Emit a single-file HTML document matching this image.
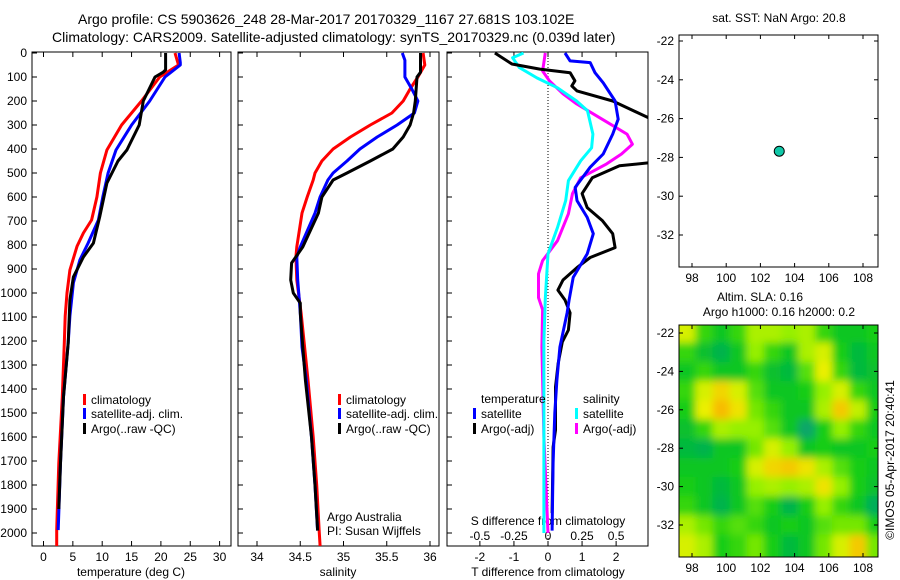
<!DOCTYPE html>
<html><head><meta charset="utf-8"><style>
html,body{margin:0;padding:0;background:#fff;}
svg{display:block;font-family:"Liberation Sans",Arial,sans-serif;}
text{fill:#000;}
</style></head><body>
<svg id="fig" xmlns="http://www.w3.org/2000/svg" width="900" height="580" viewBox="0 0 900 580">
<defs>
<filter id="blur" x="0" y="0" width="1" height="1"><feGaussianBlur stdDeviation="4"/></filter>
<clipPath id="cp1"><rect x="32" y="52" width="199" height="494"/></clipPath>
<clipPath id="cp2"><rect x="238" y="52" width="201" height="494"/></clipPath>
<clipPath id="cp3"><rect x="447" y="52" width="201" height="494"/></clipPath>
<clipPath id="cpm"><rect x="679" y="325" width="199" height="232"/></clipPath>
</defs>
<text x="78" y="24" font-size="14">Argo profile: CS 5903626_248 28-Mar-2017 20170329_1167 27.681S 103.102E</text>
<text x="52" y="42" font-size="14">Climatology: CARS2009. Satellite-adjusted climatology: synTS_20170329.nc (0.039d later)</text>
<g id="g"></g>
</svg>
<script>
// ---- profile data (depth in m) ----
const tClimDepth=[0,50,100,200,300,404,500,600,696,750,806,904,1000,1096,1208,1433,1708,1988,2054];
const tClimVal=[22.4,23.0,19.8,16.7,13.3,10.8,9.7,9.1,8.2,6.8,5.7,4.5,4.0,3.7,3.55,3.2,2.6,2.25,2.25];
const tSatDepth=[0,40,50,100,200,300,404,500,600,696,792,862,958,1096,1208,1433,1708,1988];
const tSatVal=[23.1,23.3,23.3,20.7,18.1,15.0,12.35,11.0,10.1,9.35,7.6,6.2,5.1,4.5,4.2,3.4,2.9,2.5];
const tArgoDepth=[0,70,80,100,200,300,404,450,542,679,792,850,933,1029,1208,1433,1708,1900];
const tArgoVal=[20.8,20.8,20.4,19.0,17.0,16.3,14.2,12.7,10.8,9.6,8.5,6.8,5.1,4.5,4.2,3.4,2.9,2.6];

const sClimDepth=[0,50,100,150,200,250,300,350,400,450,500,529,600,667,808,850,946,1083,1225,1363,1600,1800,2000,2054];
const sClimVal=[35.92,35.94,35.86,35.77,35.69,35.56,35.31,35.08,34.88,34.75,34.67,34.65,34.58,34.52,34.46,34.45,34.46,34.51,34.55,34.59,34.65,34.69,34.72,34.73];
const sSatDepth=[0,30,100,150,200,250,300,350,400,450,500,529,600,667,808,850,946,1083,1225,1363,1600,1800,1990];
const sSatVal=[35.68,35.71,35.71,35.79,35.86,35.82,35.62,35.39,35.19,35.04,34.88,34.82,34.73,34.67,34.5,34.46,34.47,34.5,34.52,34.57,34.63,34.67,34.7];
const sArgoDepth=[0,80,100,200,250,300,350,400,450,500,529,600,667,808,875,946,1000,1042,1083,1225,1363,1600,1800,1990];
const sArgoVal=[35.89,35.89,35.85,35.83,35.81,35.77,35.69,35.57,35.31,35.04,34.88,34.75,34.71,34.53,34.4,34.39,34.42,34.5,34.5,34.53,34.56,34.63,34.67,34.7];

// ---- differences from climatology ----
const dTSatDepth=[0,33,40,82,124,200,276,338,421,476,560,615,685,753,837,935,1029,1083,1225,1363,1500,1708,1990];
const dTSatVal=[0.5,0.65,1.24,1.38,1.62,1.97,2.06,1.9,1.62,1.24,0.8,0.85,1.15,1.33,1.15,0.74,0.62,0.56,0.35,0.26,0.2,0.15,0.12];
const dTArgoDepth=[0,46,67,82,116,137,158,200,270,330,420,457,470,520,586,644,699,753,811,852,894,946,988,1029,1083,1154,1204,1292,1392,1571,1642,1917];
const dTArgoVal=[-1.56,-1.06,-0.24,0.65,0.79,0.7,0.85,1.9,2.95,3.6,3.6,3.0,2.1,1.3,1.0,1.15,1.6,1.9,1.97,1.24,0.85,0.44,0.29,0.5,0.65,0.6,0.42,0.3,0.22,0.22,0.15,0.12];
const dSSatDepth=[0,20,61,104,145,200,241,338,395,449,532,615,727,837,1023,1200,2000];
const dSSatVal=[-0.18,-0.26,-0.21,-0.08,0.07,0.21,0.29,0.33,0.32,0.24,0.15,0.13,0.07,0.0,-0.02,-0.03,-0.03];
const dSArgoDepth=[0,75,116,170,212,270,338,380,421,462,520,586,670,782,865,920,1019,1070,1225,1600,2000];
const dSArgoVal=[-0.02,-0.04,0.01,0.11,0.21,0.38,0.58,0.62,0.54,0.43,0.24,0.18,0.15,0.07,-0.04,-0.07,-0.07,-0.04,-0.045,-0.03,0.0];

// ---- map data ----
const floatLon=103.102, floatLat=-27.681;
const slaLons=[97.7,98.7,99.7,100.7,101.7,102.7,103.7,104.7,105.7,106.7,107.7,108.7];
const slaLats=[-22,-23,-24,-25,-26,-27,-28,-29,-30,-31,-32,-33];
const slaGrid=[
[0.7,0.4,0.3,0.4,0.6,0.6,0.55,0.6,0.4,0.3,0.3,0.35],
[0.4,0.25,0.15,0.3,0.55,0.4,0.3,0.6,0.7,0.35,0.2,0.3],
[0.3,0.4,0.3,0.3,0.4,0.25,0.2,0.45,0.75,0.4,0.2,0.25],
[0.4,0.7,0.85,0.7,0.45,0.3,0.3,0.35,0.55,0.7,0.4,0.3],
[0.35,0.75,0.95,0.8,0.5,0.4,0.3,0.3,0.6,0.9,0.65,0.35],
[0.25,0.4,0.6,0.55,0.55,0.45,0.3,0.05,0.35,0.55,0.4,0.3],
[0.2,0.15,0.3,0.3,0.5,0.7,0.55,0.3,0.35,0.3,0.3,0.35],
[0.3,0.3,0.3,0.35,0.7,0.85,0.9,0.8,0.6,0.45,0.35,0.3],
[0.35,0.3,0.2,0.3,0.55,0.6,0.55,0.6,0.8,0.55,0.35,0.25],
[0.4,0.3,0.15,0.3,0.45,0.35,0.15,0.35,0.55,0.4,0.3,0.1],
[0.6,0.5,0.4,0.45,0.4,0.3,0.35,0.3,0.45,0.5,0.5,0.35],
[0.7,0.6,0.35,0.4,0.5,0.35,0.2,0.3,0.5,0.7,0.9,0.5]];

const NS="http://www.w3.org/2000/svg";
const G=document.getElementById('g');
function mk(tag,at,parent){const e=document.createElementNS(NS,tag);for(const k in at)e.setAttribute(k,at[k]);(parent||G).appendChild(e);return e;}
function txt(x,y,s,size,anchor,parent){const t=mk('text',{x:x,y:y,'font-size':size||12,'text-anchor':anchor||'start'},parent);t.textContent=s;return t;}

const Y0=53, YK=0.24;
const yD=d=>Y0+d*YK;
const xT=v=>43.5+v*5.87;
const xS=v=>257+(v-34)*86.5;
const xDT=v=>548+v*34.06;
const xDS=v=>548+v*136.2;

function line(ds,vs,fx,color,clip,name,w){
  let p='';for(let i=0;i<ds.length;i++)p+=(i?'L':'M')+fx(vs[i]).toFixed(1)+' '+yD(ds[i]).toFixed(1);
  const e=mk('path',{d:p,fill:'none',stroke:color,'stroke-width':w||3,'clip-path':'url(#'+clip+')','stroke-linejoin':'round'});
  
  
}

function frame(x0,x1,name,leftLabels){
  const r=mk('rect',{x:x0,y:52,width:x1-x0,height:494,fill:'none',stroke:'#000','stroke-width':1});
  
  
  for(let d=0;d<=2000;d+=100){
    const y=yD(d);
    mk('line',{x1:x0,x2:x0+5,y1:y,y2:y,stroke:'#000'});
    if(leftLabels){const t=txt(x0-5,y+4,String(d),12,'end');}
  }
}
frame(32,231,'temperature-panel',true);
frame(238,439,'salinity-panel',false);
frame(447,648,'difference-panel',false);

[0,5,10,15,20,25,30].forEach(v=>{const x=xT(v);mk('line',{x1:x,x2:x,y1:546,y2:541,stroke:'#000'});mk('line',{x1:x,x2:x,y1:52,y2:57,stroke:'#000'});txt(x,561,String(v),12,'middle');});
txt(131,576,'temperature (deg C)',12,'middle');
[34,34.5,35,35.5,36].forEach(v=>{const x=xS(v);mk('line',{x1:x,x2:x,y1:546,y2:541,stroke:'#000'});mk('line',{x1:x,x2:x,y1:52,y2:57,stroke:'#000'});txt(x,561,String(v),12,'middle');});
txt(338,576,'salinity',12,'middle');
[-2,-1,0,1,2].forEach(v=>{const x=xDT(v);mk('line',{x1:x,x2:x,y1:546,y2:541,stroke:'#000'});mk('line',{x1:x,x2:x,y1:52,y2:57,stroke:'#000'});txt(x,561,String(v),12,'middle');});
txt(548,576,'T difference from climatology',12,'middle');
[['-0.5',-0.5],['-0.25',-0.25],['0',0],['0.25',0.25],['0.5',0.5]].forEach(a=>txt(xDS(a[1]),540,a[0],12,'middle'));
txt(548,525,'S difference from climatology',12,'middle');

mk('line',{x1:548,x2:548,y1:52,y2:546,stroke:'#000','stroke-dasharray':'1,2','stroke-width':1});

line(tClimDepth,tClimVal,xT,'#ff0000','cp1','temp-climatology-line');
line(tSatDepth,tSatVal,xT,'#0000ff','cp1','temp-satellite-line');
line(tArgoDepth,tArgoVal,xT,'#000000','cp1','temp-argo-line');
line(sClimDepth,sClimVal,xS,'#ff0000','cp2','sal-climatology-line');
line(sSatDepth,sSatVal,xS,'#0000ff','cp2','sal-satellite-line');
line(sArgoDepth,sArgoVal,xS,'#000000','cp2','sal-argo-line');
line(dSArgoDepth,dSArgoVal,xDS,'#ff00ff','cp3','s-diff-argo-line');
line(dSSatDepth,dSSatVal,xDS,'#00ffff','cp3','s-diff-satellite-line');
line(dTArgoDepth,dTArgoVal,xDT,'#000000','cp3','t-diff-argo-line');
line(dTSatDepth,dTSatVal,xDT,'#0000ff','cp3','t-diff-satellite-line');

function leg(x,y,c,s,name){mk('rect',{x:x,y:y-9,width:3,height:11,fill:c});const t=txt(x+8,y+1,s,12);}
leg(83,403,'#ff0000','climatology','legend-climatology');
leg(83,417,'#0000ff','satellite-adj. clim.','legend-satellite');
leg(83,432,'#000000','Argo(..raw -QC)','legend-argo');
leg(338,403,'#ff0000','climatology','legend-climatology-2');
leg(338,417,'#0000ff','satellite-adj. clim.','legend-satellite-2');
leg(338,432,'#000000','Argo(..raw -QC)','legend-argo-2');
txt(481,403,'temperature',12);
txt(583,403,'salinity',12);
leg(473,417,'#0000ff','satellite','legend-t-satellite');
leg(473,432,'#000000','Argo(-adj)','legend-t-argo');
leg(575,417,'#00ffff','satellite','legend-s-satellite');
leg(575,432,'#ff00ff','Argo(-adj)','legend-s-argo');
txt(327,521,'Argo Australia',12);
txt(327,535,'PI: Susan Wijffels',12);

const MX0=679,MX1=878;
const xL=lon=>692+(lon-98)*17.1;
function mapAxes(ytop,ybot,yLat,name){
  const r=mk('rect',{x:MX0,y:ytop,width:MX1-MX0,height:ybot-ytop,fill:'none',stroke:'#000'});
  
  
  [98,100,102,104,106,108].forEach(v=>{const x=xL(v);mk('line',{x1:x,x2:x,y1:ybot,y2:ybot-4,stroke:'#000'});mk('line',{x1:x,x2:x,y1:ytop,y2:ytop+4,stroke:'#000'});txt(x,ybot+15,String(v),12,'middle');});
  [-22,-24,-26,-28,-30,-32].forEach(v=>{const y=yLat(v);mk('line',{x1:MX0,x2:MX0+4,y1:y,y2:y,stroke:'#000'});mk('line',{x1:MX1,x2:MX1-4,y1:y,y2:y,stroke:'#000'});txt(MX0-5,y+4,String(v),12,'end');});
}
const yA=lat=>41+(-22-lat)*19.4;
const yB=lat=>333+(-22-lat)*19.2;
txt(779,22,'sat. SST: NaN Argo: 20.8',12,'middle');
mapAxes(35,267,yA,'sst-map');
const dot=mk('circle',{cx:xL(floatLon),cy:yA(floatLat),r:5,fill:'#10c8a8',stroke:'#000','stroke-width':1});


txt(760,301,'Altim. SLA: 0.16',12,'middle');
txt(779,316,'Argo h1000: 0.16 h2000: 0.2',12,'middle');

function col(v){
  const stops=[[0,[10,160,120]],[0.2,[0,185,60]],[0.35,[20,205,20]],[0.55,[150,240,0]],[0.75,[235,240,0]],[1,[250,175,0]]];
  for(let i=1;i<stops.length;i++){if(v<=stops[i][0]){const a=stops[i-1],b=stops[i],t=(v-a[0])/(b[0]-a[0]);return 'rgb('+a[1].map((c,k)=>Math.round(c+(b[1][k]-c)*t)).join(',')+')';}}
  return 'rgb(250,175,0)';
}
const hm=mk('g',{'clip-path':'url(#cpm)'});


const hmInner=mk('g',{filter:'url(#blur)'},hm);
const cw=17.1, ch=19.2;
mk('rect',{x:MX0-20,y:305,width:240,height:272,fill:col(0.4)},hmInner);
for(let r=0;r<slaLats.length;r++)for(let c=0;c<slaLons.length;c++){
  let x=xL(slaLons[c])-cw/2, y=yB(slaLats[r])-ch/2, w=cw+0.5, h=ch+0.5;
  if(c===0){x-=20;w+=20;} if(c===slaLons.length-1){w+=20;}
  if(r===0){y-=20;h+=20;} if(r===slaLats.length-1){h+=20;}
  const cell=mk('rect',{x:x,y:y,width:w,height:h,fill:col(slaGrid[r][c])},hmInner);
  
  
}
mapAxes(325,557,yB,'sla-map');
const cr=txt(0,0,'©IMOS 05-Apr-2017 20:40:41',12,'middle');
cr.setAttribute('transform','translate(894,460) rotate(-90)');


</script>
</body></html>
